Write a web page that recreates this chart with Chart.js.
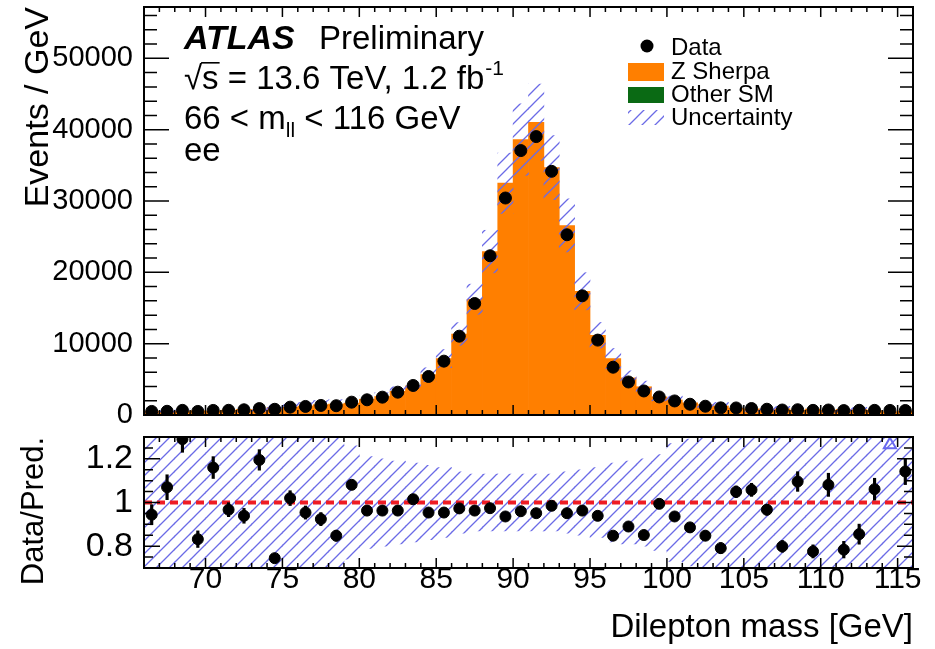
<!DOCTYPE html>
<html>
<head>
<meta charset="utf-8">
<title>Dilepton mass, ee</title>
<script src="https://cdn.jsdelivr.net/npm/chart.js@4.4.1/dist/chart.umd.min.js"></script>
<style>
  body { margin: 0; background: #fff; }
  #wrap { position: relative; width: 935px; height: 649px; }
  canvas { position: absolute; left: 0; }
  #topChart { top: 0; }
  #ratioChart { top: 425px; }
</style>
</head>
<body>
<div id="wrap">
  <canvas id="topChart" width="935" height="425"></canvas>
  <canvas id="ratioChart" width="935" height="224"></canvas>
</div>
<script>
// bin centres [GeV]
const massBins = [
  66.5, 67.5, 68.5, 69.5, 70.5, 71.5, 72.5, 73.5, 74.5, 75.5,
  76.5, 77.5, 78.5, 79.5, 80.5, 81.5, 82.5, 83.5, 84.5, 85.5,
  86.5, 87.5, 88.5, 89.5, 90.5, 91.5, 92.5, 93.5, 94.5, 95.5,
  96.5, 97.5, 98.5, 99.5, 100.5, 101.5, 102.5, 103.5, 104.5, 105.5,
  106.5, 107.5, 108.5, 109.5, 110.5, 111.5, 112.5, 113.5, 114.5, 115.5
];
// events per GeV, data
const dataEvents = [
  500, 520, 650, 500, 640, 660, 730, 900, 800, 1100,
  1200, 1340, 1300, 1800, 2130, 2500, 3200, 4140, 5400, 7550,
  11050, 15630, 22320, 30420, 37070, 39030, 34160, 25270, 16710, 10500,
  6700, 4630, 3370, 2530, 1970, 1510, 1230, 1000, 990, 910,
  810, 700, 740, 650, 700, 620, 660, 650, 640, 630
];
// Z Sherpa prediction
const zSherpa = [
  530, 486, 504, 601, 552, 683, 777, 753, 1074, 1078,
  1258, 1450, 1533, 1665, 2212, 2596, 3323, 4079, 5660, 7914,
  11357, 16231, 22916, 32500, 38615, 41041, 34680, 26572, 17352, 11182,
  7901, 5202, 3960, 2545, 2105, 1704, 1450, 1264, 944, 860,
  838, 876, 675, 838, 648, 791, 772, 613, 470, 552
];
// relative uncertainty of the prediction
const uncRel = [
  0.4, 0.4, 0.4, 0.4, 0.4, 0.4, 0.4, 0.4, 0.4, 0.4,
  0.4, 0.4, 0.4, 0.26, 0.21, 0.2, 0.19, 0.18, 0.17, 0.16,
  0.14, 0.13, 0.13, 0.13, 0.13, 0.13, 0.13, 0.14, 0.15, 0.16,
  0.18, 0.19, 0.2, 0.22, 0.27, 0.29, 0.32, 0.4, 0.4, 0.4,
  0.4, 0.4, 0.4, 0.4, 0.4, 0.4, 0.4, 0.4, 0.4, 0.4
];
// data / prediction (null = above the axis range)
const ratioValues = [
  0.944, 1.070, 1.290, 0.832, 1.160, 0.967, 0.939, 1.195, 0.745, 1.020,
  0.954, 0.924, 0.848, 1.081, 0.963, 0.963, 0.963, 1.015, 0.954, 0.954,
  0.973, 0.963, 0.974, 0.936, 0.960, 0.951, 0.985, 0.951, 0.963, 0.939,
  0.848, 0.890, 0.851, 0.994, 0.936, 0.886, 0.848, 0.791, 1.049, 1.058,
  0.967, 0.799, 1.096, 0.776, 1.081, 0.784, 0.855, 1.061, null, 1.142
];
const ratioErr = [
  0.046, 0.057, 0.06, 0.038, 0.05, 0.032, 0.034, 0.047, 0.02, 0.034,
  0.03, 0.03, 0.025, 0.02, 0.015, 0.015, 0.012, 0.01, 0.01, 0.008,
  0.006, 0.005, 0.004, 0.004, 0.003, 0.003, 0.003, 0.004, 0.005, 0.006,
  0.008, 0.01, 0.012, 0.015, 0.018, 0.02, 0.022, 0.025, 0.027, 0.03,
  0.025, 0.027, 0.045, 0.03, 0.053, 0.038, 0.046, 0.05, null, 0.06
];
const overflowBins = [114.5];
const yTicksTop = [0, 10000, 20000, 30000, 40000, 50000];
const yTicksRatio = [0.8, 1, 1.2];
const xTicks = [70, 75, 80, 85, 90, 95, 100, 105, 110, 115];

const FONT = "'Liberation Sans', Arial, Helvetica, sans-serif";
Chart.defaults.font.family = FONT;
Chart.defaults.color = "#000";

const ORANGE = "#ff7f00";
const GREEN = "#0a6a14";
const HATCH_COLOR = "#6b6be6";

function makeHatch() {
    const n = 13;
    const c = document.createElement("canvas");
    c.width = n; c.height = n;
    const g = c.getContext("2d");
    g.strokeStyle = HATCH_COLOR;
    g.lineWidth = 1.3;
    g.beginPath();
    g.moveTo(0, n); g.lineTo(n, 0);
    g.moveTo(-2, 2); g.lineTo(2, -2);
    g.moveTo(n - 2, n + 2); g.lineTo(n + 2, n - 2);
    g.stroke();
    return g.createPattern(c, "repeat");
}
const hatch = makeHatch();

// fixed axis boxes so both panels line up
function fixY(s) { s.width = 144; s.paddingTop = 0; s.paddingBottom = 0; }
function fixX(s) { s.height = 81; s.paddingLeft = 0; s.paddingRight = 0; }

// ROOT style frame with ticks drawn inside
const frameTicks = {
    id: "frameTicks",
    afterDraw(chart, args, opts) {
        const { ctx, chartArea: a, scales } = chart;
        ctx.save();
        ctx.strokeStyle = "#000";
        ctx.lineWidth = 1.5;
        ctx.beginPath();
        for (let m = 66; m <= 116; m++) {
            const px = scales.x.getPixelForValue(m);
            const len = m % 5 === 0 ? opts.xMajor : opts.xMinor;
            ctx.moveTo(px, a.bottom); ctx.lineTo(px, a.bottom - len);
            ctx.moveTo(px, a.top); ctx.lineTo(px, a.top + len);
        }
        const ys = scales.y;
        for (let k = 0; ; k++) {
            const v = ys.min + k * opts.yStep;
            if (v > ys.max + 1e-9) break;
            const major = Math.abs(v / opts.yMajorStep - Math.round(v / opts.yMajorStep)) < 1e-6;
            const len = major ? opts.yMajor : opts.yMinor;
            const py = ys.getPixelForValue(v);
            ctx.moveTo(a.left, py); ctx.lineTo(a.left + len, py);
            ctx.moveTo(a.right, py); ctx.lineTo(a.right - len, py);
        }
        ctx.stroke();
        ctx.lineWidth = 2;
        ctx.strokeRect(a.left, a.top, a.right - a.left, a.bottom - a.top);
        ctx.restore();
    }
};

// ATLAS label and legend of the upper panel
const labels = {
    id: "labels",
    afterDraw(chart) {
        const ctx = chart.ctx;
        ctx.save();
        ctx.fillStyle = "#000";
        ctx.textBaseline = "alphabetic";
        ctx.textAlign = "left";

        ctx.font = "italic bold 34px " + FONT;
        ctx.fillText("ATLAS", 184, 49);
        ctx.font = "33px " + FONT;
        ctx.fillText("Preliminary", 319, 49);

        let x = 184, y = 89;
        ctx.fillText("\u221A", x, y);
        x += ctx.measureText("\u221A").width;
        const sw = ctx.measureText("s").width;
        ctx.fillText("s", x, y);
        ctx.fillRect(x - 1, y - 27, sw + 2, 1.6);
        x += sw;
        const rest = " = 13.6 TeV, 1.2 fb";
        ctx.fillText(rest, x, y);
        x += ctx.measureText(rest).width;
        ctx.font = "21px " + FONT;
        ctx.fillText("-1", x + 1, y - 14);

        ctx.font = "33px " + FONT;
        x = 184; y = 129;
        ctx.fillText("66 < m", x, y);
        x += ctx.measureText("66 < m").width;
        ctx.font = "21px " + FONT;
        ctx.fillText("ll", x, y + 8);
        x += ctx.measureText("ll").width;
        ctx.font = "33px " + FONT;
        ctx.fillText(" < 116 GeV", x, y);
        ctx.fillText("ee", 184, 161);

        // legend
        ctx.font = "24px " + FONT;
        ctx.beginPath();
        ctx.arc(647, 46, 6.5, 0, Math.PI * 2);
        ctx.fill();
        ctx.fillText("Data", 671, 55);
        ctx.fillStyle = ORANGE;
        ctx.fillRect(628, 63, 36, 18);
        ctx.fillStyle = GREEN;
        ctx.fillRect(628, 87, 36, 16);
        ctx.fillStyle = hatch;
        ctx.fillRect(628, 110, 36, 15);
        ctx.fillStyle = "#000";
        ctx.fillText("Z Sherpa", 671, 79);
        ctx.fillText("Other SM", 671, 102);
        ctx.fillText("Uncertainty", 671, 125);
        ctx.restore();
    }
};

const barDefaults = { type: "bar", grouped: false, barPercentage: 1, categoryPercentage: 1, borderWidth: 0, clip: 0 };

new Chart(document.getElementById("topChart"), {
    type: "bar",
    data: {
        datasets: [
            {
                type: "scatter",
                label: "Data",
                data: massBins.map((m, i) => ({ x: m, y: dataEvents[i] })),
                pointRadius: 6,
                backgroundColor: "#000",
                borderColor: "#000",
                order: 0
            },
            Object.assign({}, barDefaults, {
                label: "Uncertainty",
                data: massBins.map((m, i) => ({ x: m, y: [zSherpa[i] * (1 - uncRel[i]), zSherpa[i] * (1 + uncRel[i])] })),
                backgroundColor: hatch,
                order: 1
            }),
            Object.assign({}, barDefaults, {
                label: "Z Sherpa",
                data: massBins.map((m, i) => ({ x: m, y: zSherpa[i] })),
                backgroundColor: ORANGE,
                order: 2
            })
        ]
    },
    options: {
        responsive: false,
        animation: false,
        events: [],
        layout: { padding: { top: 6, right: 22, bottom: 10, left: 0 } },
        plugins: {
            legend: { display: false },
            tooltip: { enabled: false },
            frameTicks: { xMajor: 10, xMinor: 5, yStep: 2000, yMajorStep: 10000, yMajor: 25, yMinor: 13 }
        },
        scales: {
            x: { type: "linear", min: 66, max: 116, offset: false, display: false },
            y: {
                min: 0,
                max: 57200,
                afterFit: fixY,
                afterBuildTicks: s => { s.ticks = yTicksTop.map(v => ({ value: v })); },
                grid: { display: false, drawTicks: false },
                border: { display: false },
                ticks: { callback: v => String(v), font: { size: 29 }, padding: 11, color: "#000" },
                title: { display: true, text: "Events / GeV", align: "end", font: { size: 34 }, padding: { top: 18 }, color: "#000" }
            }
        }
    },
    plugins: [frameTicks, labels]
});

new Chart(document.getElementById("ratioChart"), {
    type: "bar",
    data: {
        datasets: [
            Object.assign({}, barDefaults, {
                label: "Uncertainty",
                data: massBins.map((m, i) => ({ x: m, y: [1 - uncRel[i], 1 + uncRel[i]] })),
                backgroundColor: hatch,
                order: 4
            }),
            {
                type: "line",
                label: "unity",
                data: [{ x: 66, y: 1 }, { x: 116, y: 1 }],
                borderColor: "#ee1c24",
                borderWidth: 4,
                borderDash: [8, 5],
                pointRadius: 0,
                order: 3
            },
            Object.assign({}, barDefaults, {
                label: "stat",
                data: massBins.map((m, i) => ({ x: m, y: ratioValues[i] === null ? null : [ratioValues[i] - ratioErr[i], ratioValues[i] + ratioErr[i]] }))
                    .filter(p => p.y !== null),
                barThickness: 2.5,
                backgroundColor: "#000",
                order: 2
            }),
            {
                type: "scatter",
                label: "Data/Pred.",
                data: massBins.map((m, i) => ({ x: m, y: ratioValues[i] })).filter(p => p.y !== null),
                pointRadius: 5.5,
                backgroundColor: "#000",
                borderColor: "#000",
                order: 1
            },
            {
                type: "scatter",
                label: "overflow",
                data: overflowBins.map(m => ({ x: m, y: 1.265 })),
                pointStyle: "triangle",
                pointRadius: 7,
                borderWidth: 2,
                borderColor: "#6a6af0",
                backgroundColor: "rgba(0,0,0,0)",
                order: 0
            }
        ]
    },
    options: {
        responsive: false,
        animation: false,
        events: [],
        layout: { padding: { top: 12, right: 22, bottom: 0, left: 0 } },
        plugins: {
            legend: { display: false },
            tooltip: { enabled: false },
            frameTicks: { xMajor: 10, xMinor: 5, yStep: 0.05, yMajorStep: 0.2, yMajor: 16, yMinor: 9 }
        },
        scales: {
            x: {
                type: "linear",
                min: 66,
                max: 116,
                offset: false,
                afterFit: fixX,
                afterBuildTicks: s => { s.ticks = xTicks.map(v => ({ value: v })); },
                grid: { display: false, drawTicks: false },
                border: { display: false },
                ticks: { callback: v => String(v), font: { size: 30, lineHeight: 1 }, padding: -3, autoSkip: false, maxRotation: 0, color: "#000" },
                title: { display: true, text: "Dilepton mass [GeV]", align: "end", font: { size: 33 }, padding: { top: 0, bottom: 1 }, color: "#000" }
            },
            y: {
                min: 0.7,
                max: 1.3,
                afterFit: fixY,
                afterBuildTicks: s => { s.ticks = yTicksRatio.map(v => ({ value: v })); },
                grid: { display: false, drawTicks: false },
                border: { display: false },
                ticks: { callback: v => String(v), font: { size: 34 }, padding: 11, color: "#000" },
                title: { display: true, text: "Data/Pred.", align: "end", font: { size: 31 }, padding: { top: 16 }, color: "#000" }
            }
        }
    },
    plugins: [frameTicks]
});
</script>
</body>
</html>
